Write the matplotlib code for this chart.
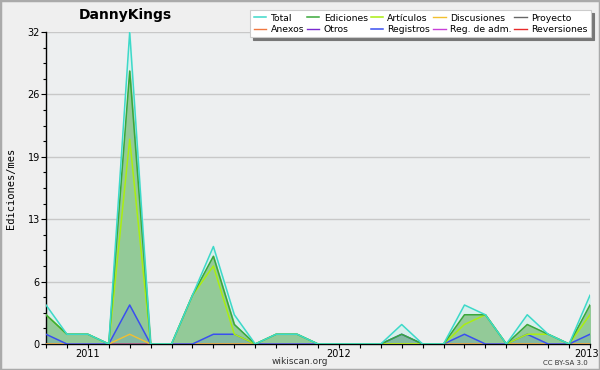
import matplotlib
matplotlib.use("Agg")
import matplotlib.pyplot as plt
import numpy as np
from matplotlib.patches import Rectangle
from matplotlib.ticker import FixedLocator, MultipleLocator
from matplotlib.transforms import ScaledTranslation

months = ['2010-11', '2010-12', '2011-01', '2011-02', '2011-03', '2011-04', '2011-05',
          '2011-06', '2011-07', '2011-08', '2011-09', '2011-10', '2011-11', '2011-12',
          '2012-01', '2012-02', '2012-03', '2012-04', '2012-05', '2012-06', '2012-07',
          '2012-08', '2012-09', '2012-10', '2012-11', '2012-12', '2013-01']
total = [4, 1, 1, 0, 32, 0, 0, 5, 10, 3, 0, 1, 1, 0, 0, 0, 0, 2, 0, 0, 4, 3, 0, 3, 1, 0, 5]
ediciones = [3, 1, 1, 0, 28, 0, 0, 5, 9, 2, 0, 1, 1, 0, 0, 0, 0, 1, 0, 0, 3, 3, 0, 2, 1, 0, 4]
articulos = [3, 1, 1, 0, 21, 0, 0, 5, 8, 1, 0, 1, 1, 0, 0, 0, 0, 0, 0, 0, 2, 3, 0, 1, 1, 0, 3]
discusiones = [0, 0, 0, 0, 1, 0, 0, 0, 0, 0, 0, 0, 0, 0, 0, 0, 0, 0, 0, 0, 0, 0, 0, 0, 0, 0, 0]
registros = [1, 0, 0, 0, 4, 0, 0, 0, 1, 1, 0, 0, 0, 0, 0, 0, 0, 1, 0, 0, 1, 0, 0, 1, 0, 0, 1]
zeros = [0] * len(months)
proyecto = zeros
anexos = zeros
otros = zeros
reg_adm = zeros
reversiones = zeros

yticks = [0, 6.4, 12.8, 19.2, 25.6, 32]
ytick_labels = ['0', '6', '13', '19', '26', '32']
year_labels = {'2011-01': '2011', '2012-01': '2012', '2013-01': '2013'}

fig = plt.figure(figsize=(6, 3.7), dpi=100, facecolor='#efefef')
ax = fig.add_axes([46/600, 1-344/370, 544/600, 312/370])
ax.set_facecolor('#edeff0')

x = np.arange(len(months))

c_total = '#3dd9c9'
c_ed = '#3aa83a'
c_art = '#aaee11'
c_disc = '#f2c030'
c_reg = '#3a4ff0'

# fills
ax.fill_between(x, total, color='#d8efec', zorder=1)
ax.fill_between(x, ediciones, color='#93ca98', zorder=2)
ax.fill_between(x, registros, color='#3a6fd0', alpha=0.18, zorder=3, linewidth=0)

lines = {}
lines['Proyecto'], = ax.plot(x, proyecto, color='#666666', lw=1, zorder=4)
lines['Anexos'], = ax.plot(x, anexos, color='#f07840', lw=1, zorder=4)
lines['Otros'], = ax.plot(x, otros, color='#7a2ad0', lw=1, zorder=4)
lines['Reg. de adm.'], = ax.plot(x, reg_adm, color='#c840d8', lw=1, zorder=4)
lines['Reversiones'], = ax.plot(x, reversiones, color='#e82a2a', lw=1, zorder=4)
lines['Discusiones'], = ax.plot(x, discusiones, color=c_disc, lw=1, zorder=5)
lines['Registros'], = ax.plot(x, registros, color=c_reg, lw=1.1, zorder=6)
lines['Artículos'], = ax.plot(x, articulos, color=c_art, lw=1.1, zorder=7)
lines['Ediciones'], = ax.plot(x, ediciones, color=c_ed, lw=1.1, zorder=8)
lines['Total'], = ax.plot(x, total, color=c_total, lw=1.1, zorder=9)

ax.set_xlim(0, len(months) - 1)
ax.set_ylim(0, 32)

ax.yaxis.set_major_locator(FixedLocator(yticks))
ax.set_yticklabels(ytick_labels)
ax.yaxis.set_minor_locator(MultipleLocator(1.6))
ax.set_xticks(x)
ax.set_xticklabels([year_labels.get(m, '') for m in months])
ax.tick_params(axis='both', which='major', labelsize=7, length=3.5, width=0.8, color='black', pad=1)
ax.tick_params(axis='x', which='major', length=3, pad=0.5)
ax.tick_params(axis='y', which='minor', length=2.5, width=0.8)
ax.grid(axis='y', which='major', color='#c8c8c8', lw=1, zorder=0)
ax.set_axisbelow(True)
for s in ['top', 'right']:
    ax.spines[s].set_visible(False)
ax.spines['left'].set_linewidth(1)
ax.spines['bottom'].set_linewidth(1)

# keep the last year label inside the figure border
last = ax.get_xticklabels()[-1]
last.set_transform(last.get_transform() + ScaledTranslation(-3/100, 0, fig.dpi_scale_trans))

ax.set_ylabel('Ediciones/mes', family='DejaVu Sans Mono', fontsize=7.5, labelpad=8)
fig.text(125/600, 1-15/370, 'DannyKings', ha='center', va='center', fontsize=10, fontweight='bold')
fig.text(300/600, 1-361/370, 'wikiscan.org', ha='center', va='center', fontsize=6.5, color='#333333')
fig.text(565/600, 1-363/370, 'CC BY-SA 3.0', ha='center', va='center', fontsize=5, color='#333333')

order = ['Total', 'Anexos', 'Ediciones', 'Otros', 'Artículos', 'Registros',
         'Discusiones', 'Reg. de adm.', 'Proyecto', 'Reversiones']
leg = fig.legend([lines[k] for k in order], order, loc='upper right',
                 bbox_to_anchor=(591/600, 1-10/370), ncol=5, fontsize=6.7,
                 frameon=True, fancybox=False, shadow={'color': '#777777', 'alpha': 1},
                 handlelength=1.3, handletextpad=0.45, columnspacing=0.35,
                 labelspacing=0.22, borderpad=0.4, borderaxespad=0)
leg.get_frame().set_edgecolor('#cccccc')
leg.get_frame().set_facecolor('white')
leg.get_frame().set_linewidth(0.8)

fig.patches.append(Rectangle((0, 0), 1, 1, transform=fig.transFigure, fill=False,
                             edgecolor='#aaaaaa', lw=2.5))

fig.savefig('out.png', dpi=100, facecolor=fig.get_facecolor())
